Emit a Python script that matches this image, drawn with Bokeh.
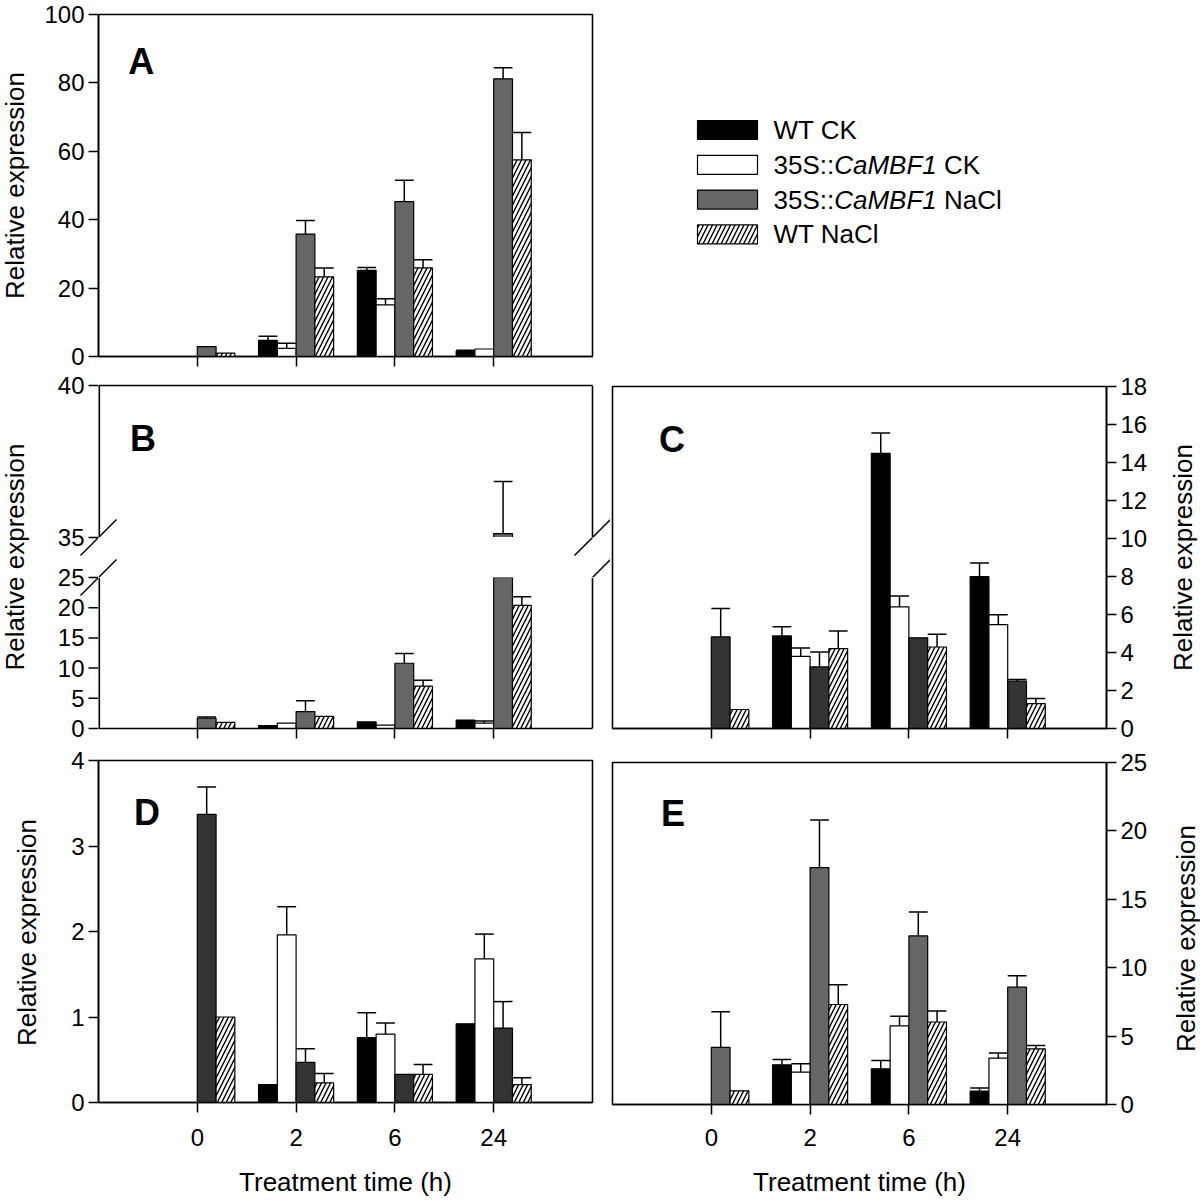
import math
from bokeh.plotting import figure
from bokeh.models import Range1d, LinearAxis, FixedTicker, Label
from bokeh.layouts import row, column
from bokeh.embed import file_html
from bokeh.resources import INLINE
from bokeh.core.properties import value

FONT = "Liberation Sans"

# ---------------- data ----------------
times = ["0", "2", "6", "24"]
series_names = ["WT CK", "35S::CaMBF1 CK", "35S::CaMBF1 NaCl", "WT NaCl"]
italic_term = "CaMBF1"
y_title = "Relative expression"
x_title = "Treatment time (h)"

# Panel A
A_wt_ck = [None, 4.7, 25.2, 1.5]
A_wt_ck_err = [None, 1.2, 0.8, 0.3]
A_35s_ck = [None, 2.4, 15.1, 2.2]
A_35s_ck_err = [None, 1.5, 1.8, 0.0]
A_35s_nacl = [2.9, 35.8, 45.3, 81.2]
A_35s_nacl_err = [0.0, 4.0, 6.2, 3.2]
A_wt_nacl = [1.0, 23.3, 25.9, 57.5]
A_wt_nacl_err = [0.0, 2.6, 2.4, 8.0]

# Panel B (broken axis 0-25 / 35-40)
B_wt_ck = [None, 0.5, 1.1, 1.4]
B_wt_ck_err = [None, 0.0, 0.0, 0.0]
B_35s_ck = [None, 0.9, 0.55, 0.9]
B_35s_ck_err = [None, 0.0, 0.0, 0.35]
B_35s_nacl = [1.7, 2.8, 10.8, 35.13]
B_35s_nacl_err = [0.2, 1.8, 1.6, 1.71]
B_wt_nacl = [1.0, 2.0, 7.0, 20.4]
B_wt_nacl_err = [0.0, 0.0, 1.0, 1.4]

# Panel C
C_wt_ck = [None, 4.87, 14.48, 7.99]
C_wt_ck_err = [None, 0.48, 1.07, 0.72]
C_35s_ck = [None, 3.80, 6.40, 5.47]
C_35s_ck_err = [None, 0.44, 0.58, 0.52]
C_35s_nacl = [4.82, 3.24, 4.77, 2.49]
C_35s_nacl_err = [1.49, 0.79, 0.0, 0.09]
C_wt_nacl = [1.0, 4.20, 4.29, 1.31]
C_wt_nacl_err = [0.0, 0.93, 0.67, 0.27]

# Panel D
D_wt_ck = [None, 0.21, 0.76, 0.92]
D_wt_ck_err = [None, 0.0, 0.29, 0.0]
D_35s_ck = [None, 1.96, 0.80, 1.68]
D_35s_ck_err = [None, 0.33, 0.13, 0.29]
D_35s_nacl = [3.37, 0.47, 0.33, 0.87]
D_35s_nacl_err = [0.32, 0.16, 0.0, 0.31]
D_wt_nacl = [1.0, 0.23, 0.33, 0.21]
D_wt_nacl_err = [0.0, 0.11, 0.115, 0.08]

# Panel E
E_wt_ck = [None, 2.90, 2.61, 0.98]
E_wt_ck_err = [None, 0.39, 0.61, 0.22]
E_35s_ck = [None, 2.36, 5.75, 3.39]
E_35s_ck_err = [None, 0.61, 0.71, 0.37]
E_35s_nacl = [4.17, 17.32, 12.32, 8.58]
E_35s_nacl_err = [2.61, 3.48, 1.75, 0.83]
E_wt_nacl = [1.0, 7.31, 6.03, 4.07]
E_wt_nacl_err = [0.0, 1.44, 0.80, 0.24]

A_yticks = [0, 20, 40, 60, 80, 100]
B_low_yticks = [0, 5, 10, 15, 20, 25]
B_up_yticks = [35, 40]
C_yticks = [0, 2, 4, 6, 8, 10, 12, 14, 16, 18]
D_yticks = [0, 1, 2, 3, 4]
E_yticks = [0, 5, 10, 15, 20, 25]

GRAY = "#666666"
DARK = "#333333"

# ---------------- helpers ----------------
BW = 0.19
x_pos = [1, 2, 3, 4]
X_MAX = 5
TICK_FS = "24px"
TITLE_FS = "26px"
FRAME_W = 494
HATCH = dict(hatch_pattern="/", hatch_color="black", hatch_scale=9, hatch_weight=1.4)


def style_axis(ax, ticks, show_labels=True, tick_out=10, standoff=4):
    ax.ticker = FixedTicker(ticks=ticks)
    ax.major_tick_out = tick_out
    ax.major_tick_in = 0
    ax.minor_tick_out = 0
    ax.minor_tick_in = 0
    ax.major_tick_line_width = 1.5
    ax.major_tick_line_color = "black"
    ax.axis_line_width = 1.6
    ax.axis_line_color = "black"
    ax.major_label_text_font = FONT
    ax.major_label_text_color = "black"
    if show_labels:
        ax.major_label_text_font_size = TICK_FS
        ax.major_label_standoff = standoff
    else:
        ax.major_label_text_font_size = "1px"
        ax.major_label_standoff = 0
        ax.major_label_overrides = {t: "" for t in ticks}
    ax.axis_label_text_font = FONT
    ax.axis_label_text_font_size = TITLE_FS
    ax.axis_label_text_font_style = "normal"
    ax.axis_label_text_color = "black"


def base_fig(width, height, yr, mbl, mbr, mbt, mbb, xr=(0, X_MAX), yloc="left",
             xloc="below", outline=True):
    p = figure(width=width, height=height, x_range=Range1d(*xr), y_range=Range1d(*yr),
               output_backend="svg", toolbar_location=None, title=None,
               min_border_left=mbl, min_border_right=mbr, min_border_top=mbt,
               min_border_bottom=mbb, x_axis_location=xloc, y_axis_location=yloc)
    p.grid.visible = False
    p.outline_line_color = "black" if outline else None
    p.outline_line_width = 1.6
    p.background_fill_color = "white"
    p.border_fill_color = "white"
    return p


def blank_fig(width, height, xr=None, yr=None):
    p = figure(width=width, height=height,
               x_range=Range1d(*(xr or (0, width))),
               y_range=Range1d(*(yr or (height, 0))),
               output_backend="svg", toolbar_location=None, title=None,
               min_border=0, min_border_left=0, min_border_right=0, min_border_top=0,
               min_border_bottom=0, x_axis_location=None, y_axis_location=None)
    p.grid.visible = False
    p.outline_line_color = None
    p.background_fill_color = "white"
    p.border_fill_color = "white"
    return p


def draw_bars(p, vals, errs, nacl_color, ymin=None):
    fills = ["black", "white", nacl_color, "white"]
    for k in range(4):
        xs, tops, ex, elo, ehi = [], [], [], [], []
        for i, v in enumerate(vals[k]):
            if v is None:
                continue
            e = errs[k][i] or 0
            if ymin is not None and v + e <= ymin:
                continue
            x = x_pos[i] + (k - 1.5) * BW
            if ymin is None or v > ymin:
                xs.append(x)
                tops.append(v)
            if e:
                ex.append(x)
                elo.append(v)
                ehi.append(v + e)
        kw = dict(fill_color=fills[k], line_color="black", line_width=1.2)
        if k == 3:
            kw.update(HATCH)
        if xs:
            p.vbar(x=xs, top=tops, bottom=0, width=BW, **kw)
        if ex:
            p.segment(x0=ex, y0=elo, x1=ex, y1=ehi, line_color="black", line_width=1.5)
            p.segment(x0=[x - BW / 2 for x in ex], y0=ehi, x1=[x + BW / 2 for x in ex],
                      y1=ehi, line_color="black", line_width=1.5)


def letter(p, x, y, t):
    p.add_layout(Label(x=x, y=y, text=t, text_font=FONT, text_font_style="bold",
                       text_font_size="36px", text_baseline="alphabetic", text_color="black"))


def x_axis_setup(p, show_labels, title=None, standoff=16, title_standoff=18):
    ax = p.xaxis[0]
    style_axis(ax, x_pos, show_labels, standoff=standoff)
    if show_labels:
        ax.major_label_overrides = {x: t for x, t in zip(x_pos, times)}
    if title:
        ax.axis_label = title
        ax.axis_label_standoff = title_standoff
    return ax


def title_fig(width, height, x_base, y_center):
    p = blank_fig(width, height)
    p.text(x=[x_base], y=[y_center], text=[y_title], angle=math.pi / 2,
           text_font=value(FONT), text_font_size=TITLE_FS, text_align="center",
           text_baseline="alphabetic", text_color="black")
    return p


def solo(p):
    # wrap each figure so that rows do not align the plot frames
    return column(p)


# layout geometry (pixels)
TW = 40          # left title column (0..40)
LW = 570         # left panel column (40..610), frame 98..592
RW = 546         # right panel column (610..1156), frame 612..1106
RTW = 44         # right title column (1156..1200)
H1, H2, H3 = 372, 376, 452

# ---------------- Panel A ----------------
pA = base_fig(LW, H1, (0, 100), 58, 18, 14, 16)
draw_bars(pA, [A_wt_ck, A_35s_ck, A_35s_nacl, A_wt_nacl],
          [A_wt_ck_err, A_35s_ck_err, A_35s_nacl_err, A_wt_nacl_err], GRAY)
style_axis(pA.yaxis[0], A_yticks)
x_axis_setup(pA, False)
letter(pA, 0.30, 86.3, "A")
tA = title_fig(TW, H1, 14, 185)

# ---------------- Legend ----------------
pL = blank_fig(RW + RTW, H1)
leg_fills = ["black", "white", GRAY, "white"]
LX, LY0, LDY, SW, SH = 117, 129.5, 34.8, 60, 19
TX = 163
LEG_FS = 26
cw = {"0": .556, "1": .556, "3": .556, "5": .556, "S": .667, ":": .278, " ": .278,
      "C": .722, "K": .667, "W": .944, "T": .611, "N": .722, "a": .556, "l": .222,
      "M": .833, "B": .667, "F": .611}
for k, name in enumerate(series_names):
    y = LY0 + k * LDY
    kw = dict(fill_color=leg_fills[k], line_color="black", line_width=1.2)
    if k == 3:
        kw.update(HATCH)
    pL.rect(x=[LX], y=[y], width=SW, height=SH, **kw)
    if italic_term in name:
        pre, post = name.split(italic_term)
        parts = [(pre, "normal"), (italic_term, "italic"), (post, "normal")]
    else:
        parts = [(name, "normal")]
    xx = TX
    for txt, sty in parts:
        lead = len(txt) - len(txt.lstrip(" "))
        xx += lead * cw[" "] * LEG_FS
        t = txt.strip(" ")
        if t:
            pL.text(x=[xx], y=[y], text=[t], text_font=value(FONT), text_font_style=sty,
                    text_font_size=f"{LEG_FS}px", text_baseline="middle", text_align="left",
                    text_color="black")
        xx += sum(cw.get(c, 0.556) for c in t) * LEG_FS

# ---------------- Panel B (broken axis) ----------------
B_vals = [B_wt_ck, B_35s_ck, B_35s_nacl, B_wt_nacl]
B_errs = [B_wt_ck_err, B_35s_ck_err, B_35s_nacl_err, B_wt_nacl_err]
MARK = 18                         # half size of the break marks in px
PXU = FRAME_W / X_MAX             # px per x unit
XPAD = MARK / PXU
UP_PX, GAP_PX, LOW_PX = 152, 40, 151
B_top = 13
B_bot = H2 - B_top - UP_PX - GAP_PX - LOW_PX   # 20
AXW = 58                          # B tick-label column (40..98)
BPW = LW - AXW                    # B plot column (98..610)
MK = dict(line_color="black", line_width=1.5)
s_u = UP_PX / (B_up_yticks[-1] - B_up_yticks[0])
s_l = LOW_PX / B_low_yticks[-1]
dyu = MARK / s_u
dyl = MARK / s_l

# upper part
pBu = base_fig(BPW, B_top + UP_PX, (B_up_yticks[0], B_up_yticks[-1]), 0, 0, B_top, 0,
               xr=(0, X_MAX + XPAD), xloc=None, yloc=None, outline=False)
draw_bars(pBu, B_vals, B_errs, GRAY, ymin=B_up_yticks[0])
topax = LinearAxis()
style_axis(topax, [], show_labels=False, tick_out=0)
topax.bounds = (0, X_MAX)
pBu.add_layout(topax, "above")
pBu.segment(x0=[0], y0=[B_up_yticks[0]], x1=[0], y1=[B_up_yticks[-1]],
            line_color="black", line_width=3.2)
pBu.segment(x0=[X_MAX], y0=[B_up_yticks[0]], x1=[X_MAX], y1=[B_up_yticks[-1]],
            line_color="black", line_width=1.6)
pBu.segment(x0=[-XPAD, X_MAX - XPAD], y0=[B_up_yticks[0] - dyu] * 2,
            x1=[XPAD, X_MAX + XPAD], y1=[B_up_yticks[0] + dyu] * 2, **MK)
letter(pBu, 0.32, 38.25, "B")

# gap between the two parts
pBg = blank_fig(BPW, GAP_PX, xr=(0, X_MAX + XPAD), yr=(GAP_PX, 0))
for cy in (0, GAP_PX):
    pBg.segment(x0=[-XPAD, X_MAX - XPAD], y0=[cy + MARK] * 2,
                x1=[XPAD, X_MAX + XPAD], y1=[cy - MARK] * 2, **MK)

# lower part
pBl = base_fig(BPW, LOW_PX + B_bot, (0, B_low_yticks[-1]), 0, 0, 0, B_bot,
               xr=(0, X_MAX + XPAD), yloc=None, outline=False)
draw_bars(pBl, B_vals, B_errs, GRAY)
bax = x_axis_setup(pBl, False)
bax.bounds = (0, X_MAX)
pBl.segment(x0=[0], y0=[0], x1=[0], y1=[B_low_yticks[-1]],
            line_color="black", line_width=3.2)
pBl.segment(x0=[X_MAX], y0=[0], x1=[X_MAX], y1=[B_low_yticks[-1]],
            line_color="black", line_width=1.6)

# B y axis (ticks, labels, left halves of the break marks) with both scales
pBa = blank_fig(AXW, H2, xr=(TW, TW + AXW),
                yr=(-B_bot / s_l, B_low_yticks[-1] + (B_top + UP_PX + GAP_PX) / s_l))
pBa.extra_y_ranges = {"up": Range1d(B_up_yticks[0] - (H2 - B_top - UP_PX) / s_u,
                                    B_up_yticks[-1] + B_top / s_u)}
AX_X = TW + AXW
for ticks, rname, cy, dy in ((B_low_yticks, "default", B_low_yticks[-1], dyl),
                             (B_up_yticks, "up", B_up_yticks[0], dyu)):
    pBa.segment(x0=[AX_X - 10] * len(ticks), y0=ticks, x1=[AX_X] * len(ticks), y1=ticks,
                line_color="black", line_width=1.5, y_range_name=rname)
    pBa.text(x=[AX_X - 14] * len(ticks), y=ticks, text=[str(t) for t in ticks],
             text_font=value(FONT), text_font_size=TICK_FS, text_align="right",
             text_baseline="middle", text_color="black", y_range_name=rname)
    pBa.segment(x0=[AX_X - MARK], y0=[cy - dy], x1=[AX_X + MARK], y1=[cy + dy],
                y_range_name=rname, **MK)

tB = title_fig(TW, H2, 14, 184.5)

# ---------------- Panel C ----------------
pC = base_fig(RW, H2, (0, 18), 2, 50, 14, 20, yloc="right")
draw_bars(pC, [C_wt_ck, C_35s_ck, C_35s_nacl, C_wt_nacl],
          [C_wt_ck_err, C_35s_ck_err, C_35s_nacl_err, C_wt_nacl_err], DARK)
style_axis(pC.yaxis[0], C_yticks)
x_axis_setup(pC, False)
letter(pC, 0.47, 15.2, "C")
tC = title_fig(RTW, H2, 26, 185)

# ---------------- Panel D ----------------
pD = base_fig(LW, H3, (0, 4), 58, 18, 12, 98)
draw_bars(pD, [D_wt_ck, D_35s_ck, D_35s_nacl, D_wt_nacl],
          [D_wt_ck_err, D_35s_ck_err, D_35s_nacl_err, D_wt_nacl_err], DARK)
style_axis(pD.yaxis[0], D_yticks)
x_axis_setup(pD, True, x_title, standoff=16, title_standoff=18)
letter(pD, 0.36, 3.39, "D")
tD = title_fig(TW, H3, 26, 184)

# ---------------- Panel E ----------------
pE = base_fig(RW, H3, (0, 25), 2, 50, 14, 96, yloc="right")
draw_bars(pE, [E_wt_ck, E_35s_ck, E_35s_nacl, E_wt_nacl],
          [E_wt_ck_err, E_35s_ck_err, E_35s_nacl_err, E_wt_nacl_err], GRAY)
style_axis(pE.yaxis[0], E_yticks)
x_axis_setup(pE, True, x_title, standoff=14, title_standoff=18)
letter(pE, 0.49, 21.3, "E")
tE = title_fig(RTW, H3, 29, 190)

layout = column(
    row(solo(tA), solo(pA), solo(pL)),
    row(solo(tB), solo(pBa), column(pBu, pBg, pBl), solo(pC), solo(tC)),
    row(solo(tD), solo(pD), solo(pE), solo(tE)),
)

open("out.html", "w").write(file_html(layout, INLINE))
